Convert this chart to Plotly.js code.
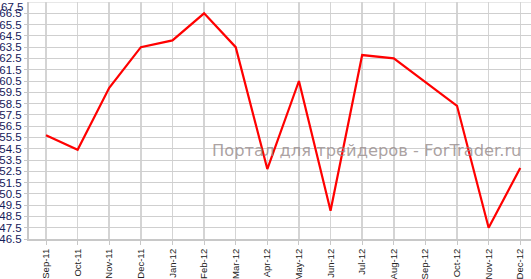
<!DOCTYPE html>
<html>
<head>
<meta charset="utf-8">
<script src="https://cdn.plot.ly/plotly-3.0.1.min.js"></script>
<style>html,body{margin:0;padding:0;background:#fff;}#chart{width:531px;height:279px;}</style>
</head>
<body>
<div id="chart"></div>
<script>
const months = ["Sep-11","Oct-11","Nov-11","Dec-11","Jan-12","Feb-12","Mar-12","Apr-12","May-12","Jun-12","Jul-12","Aug-12","Sep-12","Oct-12","Nov-12","Dec-12"];
const values = [55.7, 54.4, 59.9, 63.5, 64.1, 66.5, 63.5, 52.7, 60.5, 49.0, 62.8, 62.5, 60.4, 58.3, 47.5, 52.8];
const yTicks = [46.5,47.5,48.5,49.5,50.5,51.5,52.5,53.5,54.5,55.5,56.5,57.5,58.5,59.5,60.5,61.5,62.5,63.5,64.5,65.5,66.5];
const yTop = 67.5;
const watermark = "Портал для трейдеров - ForTrader.ru";

const trace = {
  x: months, y: values, type: "scatter", mode: "lines",
  line: {color: "#ff0000", width: 2.2},
  hoverinfo: "skip"
};
const layout = {
  width: 531, height: 279,
  margin: {l: 29, r: 0, t: 2, b: 40},
  paper_bgcolor: "#ffffff", plot_bgcolor: "#ffffff",
  showlegend: false,
  xaxis: {
    type: "category",
    range: [-0.538, 15.34],
    tickangle: -90,
    tickfont: {family: "Liberation Sans, Arial, sans-serif", size: 9.5, color: "#222222"},
    showgrid: true, gridcolor: "#d4d4d4", gridwidth: 1.5,
    showline: true, linecolor: "#c8c8c8", linewidth: 2,
    ticks: "outside", ticklen: 4, tickcolor: "#c8c8c8", tickwidth: 1,
    zeroline: false, fixedrange: true
  },
  yaxis: {
    range: [46.5, yTop],
    tickmode: "array", tickvals: yTicks, ticktext: yTicks.map(v => v.toFixed(1)),
    tickfont: {family: "Liberation Sans, Arial, sans-serif", size: 11.5, color: "#15205a"},
    showgrid: true, gridcolor: "#cfcfcf", gridwidth: 1,
    showline: true, linecolor: "#c8c8c8", linewidth: 2,
    ticks: "outside", ticklen: 3, tickcolor: "#c8c8c8",
    zeroline: false, fixedrange: true
  },
  shapes: [{
    type: "line", xref: "paper", yref: "y", x0: 0, x1: 1, y0: yTop, y1: yTop,
    line: {color: "#cfcfcf", width: 1}, layer: "below"
  }],
  annotations: [{
    text: yTop.toFixed(1), xref: "paper", yref: "paper",
    x: 0, y: 1, xanchor: "right", yanchor: "top", xshift: -4, yshift: 3,
    showarrow: false,
    font: {family: "Liberation Sans, Arial, sans-serif", size: 11.5, color: "#15205a"}
  }, {
    text: watermark, xref: "paper", yref: "paper",
    x: 0.672, y: 0.3755, xanchor: "center", yanchor: "middle",
    showarrow: false,
    font: {family: "DejaVu Sans, sans-serif", size: 16.3, color: "rgba(150,138,138,0.8)"}
  }]
};
Plotly.newPlot("chart", [trace], layout, {staticPlot: true, displayModeBar: false});
</script>
</body>
</html>
